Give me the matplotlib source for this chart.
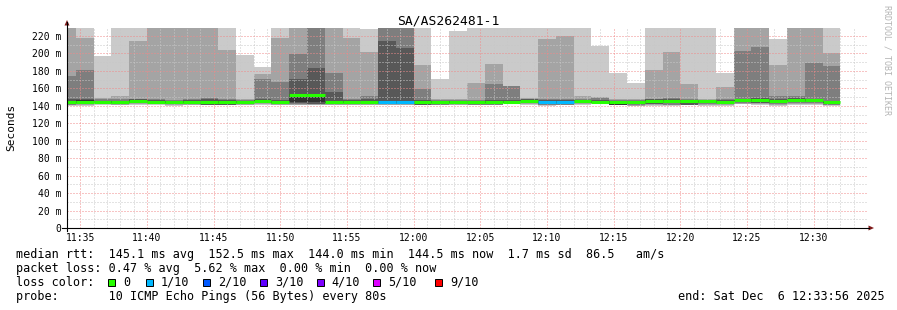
import matplotlib
matplotlib.use("Agg")
import matplotlib.pyplot as plt
from matplotlib.patches import Polygon, Rectangle
from matplotlib.lines import Line2D

# ---------------- data ----------------
TITLE = "SA/AS262481-1"
FIRST_BIN = "11:33:20"      # start of first 80 s bin
STEP_S = 80
VIEW_START = "11:34:00"
VIEW_END = "12:34:00"

# sorted ping RTTs (ms) per bin, rank 1 (fastest) .. rank 10 (slowest)
PING1 = [140.0, 140.3, 140.5, 140.5, 141.0, 140.8, 140.3, 140.5, 140.5, 140.5,
         140.5, 141.0, 140.5, 140.5, 140.5, 140.5, 140.5, 140.5, 140.5, 140.5,
         140.5, 140.5, 140.5, 140.5, 140.5, 143.0, 141.0, 140.0, 140.5, 140.8,
         142.5, 140.5, 140.0, 140.3, 140.3, 140.5, 140.3, 140.3, 142.0, 141.0,
         140.3, 141.0, 141.0, 140.3]
PING2 = [140.5, 141.0, 143.0, 141.5, 142.0, 141.8, 141.2, 141.5, 140.7, 140.7,
         141.5, 142.0, 141.5, 141.5, 141.0, 141.5, 141.5, 141.5, 141.5, 141.5,
         140.8, 141.0, 141.5, 140.8, 140.8, 143.2, 142.0, 140.5, 141.0, 141.8,
         143.0, 140.6, 140.3, 141.0, 140.8, 141.0, 141.5, 141.0, 142.5, 142.0,
         140.8, 142.0, 142.0, 141.0]
PING3 = [140.8, 142.5, 143.2, 142.5, 143.0, 142.8, 142.5, 142.5, 140.8, 140.8,
         142.5, 143.0, 142.5, 142.5, 142.0, 142.5, 142.5, 142.5, 142.0, 142.0,
         141.0, 141.3, 142.5, 141.5, 141.5, 143.4, 143.0, 141.5, 141.5, 142.8,
         143.3, 140.7, 140.5, 141.8, 141.2, 141.2, 142.5, 142.0, 143.5, 143.0,
         142.0, 143.0, 143.0, 141.5]
PING4 = [142.5, 143.0, 143.4, 143.0, 143.8, 143.4, 143.0, 143.0, 141.0, 141.2,
         143.0, 144.0, 143.0, 143.0, 142.5, 143.0, 143.0, 143.0, 142.5, 142.5,
         141.3, 143.0, 143.0, 143.0, 143.0, 143.6, 144.0, 142.5, 142.5, 143.5,
         143.6, 140.8, 142.0, 142.0, 143.5, 141.5, 143.5, 143.0, 144.0, 143.5,
         143.5, 144.0, 144.5, 143.0]
PING5 = [143.5, 143.5, 143.6, 143.3, 144.5, 144.0, 143.3, 143.3, 143.5, 143.5,
         143.5, 144.8, 143.5, 144.0, 144.0, 143.5, 143.5, 143.5, 143.0, 143.0,
         143.5, 143.5, 143.5, 143.5, 143.5, 143.8, 145.0, 143.5, 143.0, 144.0,
         143.8, 141.0, 143.0, 145.0, 145.0, 143.8, 144.0, 143.5, 145.5, 145.0,
         144.5, 145.5, 146.0, 143.5]
PING6 = [145.5, 146.5, 145.0, 145.0, 146.8, 145.5, 145.0, 145.2, 145.5, 145.5,
         145.3, 147.0, 145.5, 153.5, 153.5, 146.0, 145.5, 146.0, 146.0, 146.0,
         146.0, 145.2, 145.3, 145.2, 146.0, 145.5, 147.0, 146.0, 145.5, 145.5,
         145.5, 145.0, 145.3, 147.0, 147.0, 145.8, 145.8, 145.5, 147.2, 147.5,
         147.0, 147.5, 147.5, 145.0]
PING7 = [147.4, 147.5, 146.0, 146.0, 147.3, 146.5, 146.0, 146.3, 147.5, 146.5,
         146.0, 148.0, 147.0, 170.7, 183.3, 155.8, 146.5, 147.5, 214.3, 206.2,
         147.0, 145.8, 146.0, 146.0, 147.0, 147.0, 147.5, 147.0, 146.5, 146.5,
         146.5, 146.0, 146.0, 147.5, 147.5, 146.5, 146.5, 146.5, 148.0, 148.5,
         148.0, 148.5, 148.0, 145.5]
PING8 = [174.5, 181.0, 147.5, 147.5, 147.8, 147.8, 147.0, 147.5, 149.0, 147.5,
         147.0, 171.1, 167.3, 199.4, 240.0, 177.6, 147.8, 151.3, 240.0, 240.0,
         159.3, 146.5, 147.0, 146.7, 165.0, 162.5, 148.0, 148.0, 148.0, 148.0,
         149.0, 146.8, 147.0, 147.8, 149.5, 147.5, 147.0, 147.5, 203.2, 207.8,
         151.0, 151.0, 189.5, 185.6]
PING9 = [240.0, 217.7, 149.5, 151.0, 214.6, 240.0, 240.0, 240.0, 240.0, 204.3,
         148.0, 176.5, 217.7, 240.0, 240.0, 240.0, 217.7, 201.5, 240.0, 240.0,
         186.8, 147.5, 148.0, 166.0, 188.0, 163.0, 148.5, 216.6, 220.0, 151.0,
         150.5, 147.5, 147.5, 181.0, 201.7, 165.0, 147.5, 161.2, 240.0, 240.0,
         187.2, 240.0, 240.0, 200.9]
PING10 = [240.0, 240.0, 197.1, 240.0, 240.0, 240.0, 240.0, 240.0, 240.0, 240.0,
          198.6, 184.5, 240.0, 240.0, 240.0, 240.0, 240.0, 228.0, 240.0, 240.0,
          240.0, 170.7, 225.7, 240.0, 240.0, 240.0, 240.0, 240.0, 240.0, 240.0,
          208.9, 178.0, 166.1, 240.0, 240.0, 240.0, 240.0, 178.0, 240.0, 240.0,
          216.6, 240.0, 240.0, 240.0]
MEDIAN = [144.3, 144.3, 144.4, 144.0, 145.8, 144.8, 144.0, 144.0, 144.5, 144.5,
          144.5, 145.8, 144.5, 152.0, 152.5, 144.5, 144.5, 144.5, 144.2, 144.2,
          144.5, 144.5, 144.5, 144.3, 144.3, 144.5, 146.0, 144.5, 144.0, 145.0,
          144.5, 144.3, 144.3, 146.0, 146.0, 145.0, 145.0, 144.3, 146.5, 146.2,
          145.5, 146.5, 147.0, 144.5]
LOSS = [0, 0, 0, 0, 0, 0, 0, 0, 0, 0,
        0, 0, 0, 0, 0, 0, 0, 0, 1, 1,
        0, 0, 0, 0, 0, 0, 0, 1, 1, 0,
        0, 0, 0, 0, 0, 0, 0, 0, 0, 0,
        0, 0, 0, 0]

Y_TICKS = [0, 20, 40, 60, 80, 100, 120, 140, 160, 180, 200, 220]
Y_LABELS = ["0", "20 m", "40 m", "60 m", "80 m", "100 m", "120 m", "140 m",
            "160 m", "180 m", "200 m", "220 m"]
X_LABELS = ["11:35", "11:40", "11:45", "11:50", "11:55", "12:00",
            "12:05", "12:10", "12:15", "12:20", "12:25", "12:30"]

LOSS_LABELS = ["0", "1/10", "2/10", "3/10", "4/10", "5/10", "9/10"]
LOSS_COLORS = ["#26ff00", "#00b8ff", "#0059ff", "#5e00ff", "#7e00ff", "#dd00ff", "#ff0000"]

RTT_LINE = "median rtt:  145.1 ms avg  152.5 ms max  144.0 ms min  144.5 ms now  1.7 ms sd  86.5   am/s"
LOSS_LINE = "packet loss: 0.47 % avg  5.62 % max  0.00 % min  0.00 % now"
PROBE_LINE = "probe:       10 ICMP Echo Pings (56 Bytes) every 80s"
END_LINE = "end: Sat Dec  6 12:33:56 2025"

SMOKE_COLORS = ["#cacaca", "#a4a4a4", "#7e7e7e", "#585858", "#323232"]


def hm(s):
    p = [int(v) for v in s.split(":")]
    return p[0] * 60 + p[1] + (p[2] / 60 if len(p) > 2 else 0)


# ---------------- figure ----------------
W, H = 897, 310
fig = plt.figure(figsize=(W / 100, H / 100), dpi=100)
fig.patch.set_facecolor("white")
MONO = "DejaVu Sans Mono"

ax = fig.add_axes([67 / W, (H - 228) / H, 800 / W, 200 / H])
ax.set_xlim(hm(VIEW_START), hm(VIEW_END))
ax.set_ylim(0, 229.2)
for s in ax.spines.values():
    s.set_visible(False)

pings = [PING1, PING2, PING3, PING4, PING5, PING6, PING7, PING8, PING9, PING10]
n = len(MEDIAN)
step = STEP_S / 60.0
left = [hm(FIRST_BIN) + i * step for i in range(n)]

for layer in range(5):
    lo = pings[layer]
    hi = pings[9 - layer]
    ax.bar(left, [h - l for h, l in zip(hi, lo)], width=step, bottom=lo,
           align="edge", color=SMOKE_COLORS[layer], linewidth=0,
           antialiased=False, zorder=1 + layer * 0.1)

med_colors = [LOSS_COLORS[l] for l in LOSS]
ax.hlines(MEDIAN, left, [x + step for x in left], colors=med_colors,
          linewidth=2.2, zorder=4, capstyle="butt")

# ticks & grid
x_major = [hm(s) for s in X_LABELS]
x_minor = [hm(VIEW_START) + i for i in range(61)]
ax.set_xticks(x_major)
ax.set_xticklabels(X_LABELS, family=MONO, fontsize=7)
ax.set_xticks(x_minor, minor=True)
ax.set_yticks(Y_TICKS)
ax.set_yticklabels(Y_LABELS, family=MONO, fontsize=7)
ax.set_yticks(list(range(10, 230, 20)), minor=True)
ax.tick_params(axis="both", which="both", length=0)
ax.tick_params(axis="y", pad=4.3)
ax.tick_params(axis="x", pad=3.8)
ax.set_axisbelow(False)
ax.grid(which="minor", color="#c8c8c8", linestyle=(0, (1, 2)), linewidth=0.72)
ax.grid(which="major", color="#f08a8a", linestyle=(0, (1, 2)), linewidth=0.72)

# ---------------- overlay (pixel coordinates) ----------------
ov = fig.add_axes([0, 0, 1, 1])
ov.set_xlim(0, W)
ov.set_ylim(H, 0)
ov.axis("off")
ov.patch.set_alpha(0)

ov.add_line(Line2D([67, 67], [231, 22], color="black", linewidth=0.8))
ov.add_line(Line2D([62, 869], [228, 228], color="black", linewidth=0.8))
ov.add_patch(Polygon([(64.5, 25.5), (69.5, 25.5), (67, 20)], closed=True,
                     color="#7f1a1a", linewidth=0))
ov.add_patch(Polygon([(868.5, 225.5), (868.5, 230.5), (874, 228)], closed=True,
                     color="#7f1a1a", linewidth=0))

ov.text(448, 24.5, TITLE, family=MONO, fontsize=9.4, ha="center", va="baseline")
ov.text(11, 127.5, "Seconds", family=MONO, fontsize=8, rotation=90,
        ha="center", va="center")
ov.text(886.5, 60, "RRDTOOL / TOBI OETIKER", family=MONO, fontsize=6,
        rotation=270, ha="center", va="center", color="#b4b4b4")

FS = 8.5
ov.text(16, 257.7, RTT_LINE, family=MONO, fontsize=FS, va="baseline")
ov.text(16, 271.7, LOSS_LINE, family=MONO, fontsize=FS, va="baseline")
ov.text(16, 285.7, "loss color:", family=MONO, fontsize=FS, va="baseline")
sq_x = [108.3, 145.7, 203.3, 260.0, 316.7, 373.3, 435.0]
for x, c, lab in zip(sq_x, LOSS_COLORS, LOSS_LABELS):
    ov.add_patch(Rectangle((x, 278.5), 7, 7, facecolor=c, edgecolor="black",
                           linewidth=0.7))
    ov.text(x + 15, 285.7, lab, family=MONO, fontsize=FS, va="baseline")
ov.text(16, 299.7, PROBE_LINE, family=MONO, fontsize=FS, va="baseline")
ov.text(678.3, 299.7, END_LINE, family=MONO, fontsize=FS, va="baseline")

fig.savefig("out.png", dpi=100, facecolor="white")
